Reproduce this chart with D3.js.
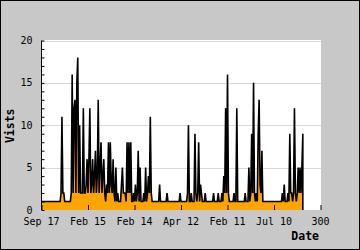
<!DOCTYPE html>
<html>
<head>
<meta charset="utf-8">
<script src="https://cdn.jsdelivr.net/npm/d3@7"></script>
<style>
  body { margin: 0; }
  svg { display: block; }
  text { font-family: "DejaVu Sans Mono", monospace; }
</style>
</head>
<body>
<svg id="chart" width="360" height="250"></svg>
<script>
// daily visits
const visits = [
  1,1,1,1,1,1,1,1,1,1,1,1,1,1,1,1,1,1,1,1,
  1,2,11,2,2,1,1,1,1,1,1,1,2,16,2,12,13,2,15,18,
  2,10,2,2,2,12,2,2,3,6,2,6,12,2,3,6,2,4,7,2,
  4,13,2,5,8,2,4,6,2,1,3,2,8,2,8,3,2,6,2,1,
  5,1,2,1,1,1,3,5,2,2,2,1,8,2,8,2,8,1,1,2,
  1,3,1,2,7,1,5,1,1,1,2,1,5,1,2,4,2,11,2,1,
  1,1,1,1,1,1,1,3,1,1,1,1,1,1,1,2,1,1,1,1,
  1,1,1,1,1,1,1,1,1,2,1,1,1,1,1,1,1,2,10,1,
  1,2,1,1,1,9,2,1,2,8,1,3,2,1,1,1,2,1,1,1,
  1,1,1,1,1,2,1,1,1,1,2,1,1,1,2,1,4,2,12,2,
  16,2,1,1,1,1,1,2,1,1,12,1,1,1,1,1,1,1,1,2,
  1,1,1,5,1,2,9,2,15,2,1,2,1,9,13,3,2,7,1,1,
  1,1,1,1,1,1,1,1,1,1,1,1,1,1,1,1,1,1,1,2,
  1,3,1,1,1,2,1,9,2,2,1,2,12,2,1,2,5,2,5,2,
  5,9
];
const xTickValues = [0, 50, 100, 150, 200, 250, 300];
const xTickLabels = ["Sep 17", "Feb 15", "Feb 14", "Apr 12", "Feb 11", "Jul 10", "300"];
const yTickValues = [0, 5, 10, 15, 20];

const W = 360, H = 250;
const svg = d3.select("#chart");

// frame
svg.append("rect")
    .attr("x", 0.5).attr("y", 0.5)
    .attr("width", W - 1).attr("height", H - 1)
    .attr("fill", "#c8c8c8")
    .attr("stroke", "#000");

const x = d3.scaleLinear().domain([0, 300]).range([41.5, 320.5]);
const y = d3.scaleLinear().domain([0, 20]).range([210, 40.5]);

// plot area
svg.append("rect")
    .attr("x", 41).attr("y", 40)
    .attr("width", 280).attr("height", 170)
    .attr("fill", "#fff");

// grid
svg.append("g")
    .selectAll("line")
    .data(yTickValues.filter(d => d > 0))
    .join("line")
    .attr("x1", 41).attr("x2", 321)
    .attr("y1", d => Math.round(y(d)) + 0.5)
    .attr("y2", d => Math.round(y(d)) + 0.5)
    .attr("stroke", "#d8d8d8");

// filled line plot
const area = d3.area()
    .x((d, i) => x(i))
    .y0(y(0))
    .y1(d => y(d));
svg.append("path")
    .datum(visits)
    .attr("d", area)
    .attr("fill", "#ffa500");

const pts = visits.map((d, i) => [i, d]);
pts.push([visits.length - 1, 0]);
const line = d3.line()
    .x(d => x(d[0]))
    .y(d => y(d[1]));
svg.append("path")
    .datum(pts)
    .attr("d", line)
    .attr("fill", "none")
    .attr("stroke", "#000")
    .attr("stroke-width", 1.6)
    .attr("stroke-linejoin", "miter")
    .attr("stroke-miterlimit", 2);

// y axis
const yAxis = d3.axisRight(y)
    .tickValues(d3.range(0, 21))
    .tickSize(3)
    .tickFormat("");
svg.append("g")
    .attr("transform", "translate(41.5,0)")
    .call(yAxis)
    .call(g => g.select(".domain").attr("d", `M0,${y(20)}V${y(0)}`));

svg.append("g")
    .selectAll("text")
    .data(yTickValues)
    .join("text")
    .attr("x", 32.5)
    .attr("y", d => y(d) + 3.6)
    .attr("text-anchor", "end")
    .attr("font-size", 10)
    .text(d => d);

// x axis ticks (drawn upward), no axis line
const xAxis = d3.axisTop(x)
    .tickValues(xTickValues)
    .tickSize(5)
    .tickFormat("");
svg.append("g")
    .attr("transform", "translate(0,210)")
    .call(xAxis)
    .call(g => g.select(".domain").remove());

svg.append("g")
    .selectAll("text")
    .data(xTickValues)
    .join("text")
    .attr("x", d => x(d))
    .attr("y", 224.5)
    .attr("text-anchor", "middle")
    .attr("font-size", 10)
    .text((d, i) => xTickLabels[i]);

// titles
svg.append("text")
    .attr("x", 319).attr("y", 240)
    .attr("text-anchor", "end")
    .attr("font-size", 11.5)
    .attr("font-weight", "bold")
    .text("Date");

svg.append("text")
    .attr("transform", "translate(14,125.8) rotate(-90)")
    .attr("text-anchor", "middle")
    .attr("font-size", 11.5)
    .attr("font-weight", "bold")
    .text("Vists");
</script>
</body>
</html>
